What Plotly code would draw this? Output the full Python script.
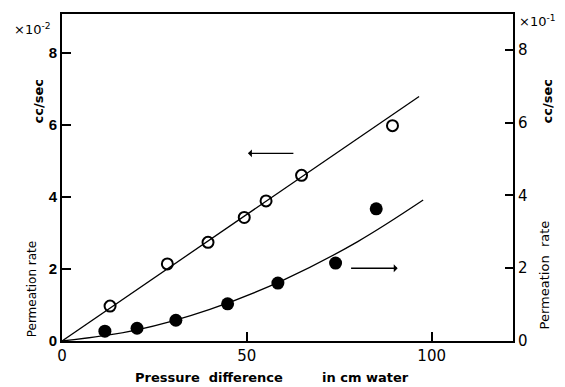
import plotly.graph_objects as go

# Open circles (left axis, x10^-2 cc/sec)
open_x = [13.0, 28.5, 39.5, 49.3, 55.2, 64.8, 89.4]
open_y = [0.97, 2.14, 2.74, 3.43, 3.89, 4.60, 5.98]
# Filled circles (right axis, x10^-1 cc/sec)
fill_x = [11.6, 20.3, 30.8, 44.8, 58.4, 74.0, 85.0]
fill_y = [0.27, 0.35, 0.57, 1.02, 1.59, 2.14, 3.63]
# Fitted lines
line_x = [0, 96.6]
line_y = [0, 6.79]
curve_x = [0, 20, 40, 60, 80, 97.7]
curve_y = [0, 0.30, 0.87, 1.68, 2.73, 3.87]

x_ticks = [0, 50, 100]
y_ticks = [0, 2, 4, 6, 8]

FONT = "Liberation Sans"
TFONT = "DejaVu Sans"

fig = go.Figure()
fig.add_trace(go.Scatter(x=line_x, y=line_y, mode="lines",
                         line=dict(color="black", width=1.3), showlegend=False))
fig.add_trace(go.Scatter(x=open_x, y=open_y, mode="markers",
                         marker=dict(symbol="circle-open", size=11, color="black",
                                     line=dict(width=2, color="black")),
                         showlegend=False))
fig.add_trace(go.Scatter(x=curve_x, y=curve_y, mode="lines", yaxis="y2",
                         line=dict(color="black", width=1.3, shape="spline"),
                         showlegend=False))
fig.add_trace(go.Scatter(x=fill_x, y=fill_y, mode="markers", yaxis="y2",
                         marker=dict(symbol="circle", size=13, color="black"),
                         showlegend=False))

fig.update_layout(
    width=565, height=387,
    margin=dict(l=62, r=52, t=12, b=46),
    paper_bgcolor="white", plot_bgcolor="white",
    font=dict(family=FONT, color="black"),
    xaxis=dict(range=[0, 122], tickvals=x_ticks, ticktext=[str(v) for v in x_ticks],
               ticks="inside", ticklen=9, tickwidth=1.5, tickcolor="black",
               showline=True, linecolor="black", linewidth=2, mirror=True,
               showgrid=False, zeroline=False,
               tickfont=dict(size=15, family=TFONT, color="black")),
    yaxis=dict(range=[0, 9.08], tickvals=y_ticks,
               ticktext=["<b>%d</b>" % v for v in y_ticks],
               ticks="inside", ticklen=9, tickwidth=1.5, tickcolor="black",
               showline=True, linecolor="black", linewidth=2,
               showgrid=False, zeroline=False,
               tickfont=dict(size=15, family=FONT, color="black")),
    yaxis2=dict(range=[0, 8.98], tickvals=y_ticks, ticktext=[str(v) for v in y_ticks],
                overlaying="y", side="right",
                ticks="inside", ticklen=8, tickwidth=1.5, tickcolor="black",
                showline=True, linecolor="black", linewidth=2,
                showgrid=False, zeroline=False,
                tickfont=dict(size=15, family=TFONT, color="black")),
)

# arrows
fig.add_annotation(x=50.3, y=5.21, ax=63.0, ay=5.21, xref="x", yref="y", axref="x", ayref="y",
                   showarrow=True, arrowhead=1, arrowsize=1, arrowwidth=1.3,
                   arrowcolor="black", text="")
fig.add_annotation(x=90.8, y=2.02, ax=77.8, ay=2.02, xref="x", yref="y", axref="x", ayref="y",
                   showarrow=True, arrowhead=1, arrowsize=1, arrowwidth=1.3,
                   arrowcolor="black", text="")


def ptext(txt, px, py, size=13, angle=0, bold=True, family=TFONT):
    t = "<b>%s</b>" % txt if bold else txt
    fig.add_annotation(text=t, xref="paper", yref="paper",
                       x=(px - 62) / 451.0, y=(341 - py) / 329.0,
                       xanchor="center", yanchor="middle", showarrow=False,
                       textangle=angle, font=dict(size=size, family=family, color="black"))


ptext("×10<sup>-2</sup>", 32, 27, size=13, bold=False)
ptext("×10<sup>-1</sup>", 537, 19, size=13, bold=False)
ptext("cc/sec", 38, 100, size=13, angle=-90)
ptext("Permeation rate", 32, 289, size=12, angle=-90, bold=False)
ptext("cc/sec", 547, 100, size=13, angle=-90)
ptext("Permeation&nbsp;&nbsp;rate", 544, 275, size=13, angle=-90, bold=False)
ptext("Pressure  difference", 209, 378, size=13, bold=True)
ptext("in cm water", 365, 378, size=13, bold=True)

fig.write_html("out.html", config={"displayModeBar": False},
               post_script="document.body.style.margin='0';")
